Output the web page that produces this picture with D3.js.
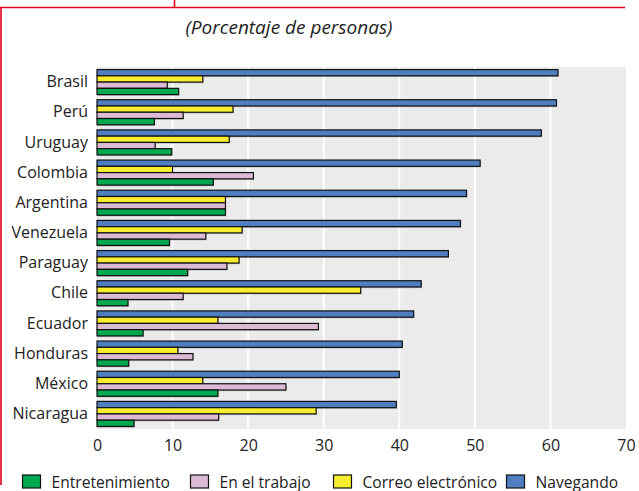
<!DOCTYPE html>
<html>
<head>
<meta charset="utf-8">
<script src="https://cdn.jsdelivr.net/npm/d3@7"></script>
<style>
  html, body { margin: 0; padding: 0; background: #fff; }
  svg { display: block; font-family: "Open Sans", "DejaVu Sans", sans-serif; }
</style>
</head>
<body>
<svg id="chart" width="639" height="491"></svg>
<script>
const countries = ["Brasil","Perú","Uruguay","Colombia","Argentina","Venezuela","Paraguay","Chile","Ecuador","Honduras","México","Nicaragua"];
const navegando       = [61.0, 60.8, 58.8, 50.7, 48.9, 48.1, 46.5, 42.9, 41.9, 40.4, 40.0, 39.6];
const correo          = [14.0, 18.0, 17.5, 10.0, 17.0, 19.2, 18.8, 34.9, 16.0, 10.7, 14.0, 29.0];
const trabajo         = [9.3, 11.4, 7.7, 20.7, 17.0, 14.4, 17.2, 11.4, 29.3, 12.7, 25.0, 16.1];
const entretenimiento = [10.8, 7.6, 9.9, 15.4, 17.0, 9.6, 12.0, 4.1, 6.1, 4.2, 16.0, 4.9];
const xTicks = [0,10,20,30,40,50,60,70];
const seriesNames = ["Navegando","Correo electrónico","En el trabajo","Entretenimiento"];
const legendOrder = ["Entretenimiento","En el trabajo","Correo electrónico","Navegando"];
const title = "(Porcentaje de personas)";

const seriesValues = {
  "Navegando": navegando,
  "Correo electrónico": correo,
  "En el trabajo": trabajo,
  "Entretenimiento": entretenimiento
};
const colors = {
  "Navegando": "#4f7fc1",
  "Correo electrónico": "#f8ee2f",
  "En el trabajo": "#dcb9d4",
  "Entretenimiento": "#00a84f"
};

const svg = d3.select("#chart");
const red = "#e3001b";

// frame
svg.append("line").attr("x1",0).attr("x2",625).attr("y1",7.5).attr("y2",7.5).attr("stroke",red).attr("stroke-width",1.6);
svg.append("line").attr("x1",174.5).attr("x2",174.5).attr("y1",0).attr("y2",7.5).attr("stroke",red).attr("stroke-width",1.6);
svg.append("line").attr("x1",1).attr("x2",1).attr("y1",7.5).attr("y2",485).attr("stroke",red).attr("stroke-width",1.6);

// title
svg.append("text").attr("x",289).attr("y",34).attr("text-anchor","middle")
  .attr("font-size",19).attr("font-style","italic").attr("fill","#222").text(title);

const x = d3.scaleLinear().domain([0,70]).range([97,626]);
const y = d3.scaleBand().domain(countries).range([67,429]).paddingInner(0.17).paddingOuter(0.085);
const ySub = d3.scaleBand().domain(seriesNames).range([0, y.bandwidth()]);

// background
svg.append("rect").attr("x",x(0)).attr("y",67).attr("width",x(70)-x(0)).attr("height",429-67).attr("fill","#ebebeb");

// gridlines
svg.append("g").selectAll("line").data(xTicks.slice(1,-1)).join("line")
  .attr("x1",d=>x(d)).attr("x2",d=>x(d)).attr("y1",67).attr("y2",429)
  .attr("stroke","#fff").attr("stroke-width",2);

// bars
const groups = svg.append("g").selectAll("g").data(countries).join("g")
  .attr("transform",d=>`translate(0,${y(d)})`);
seriesNames.forEach(s=>{
  groups.append("rect")
    .attr("x",x(0)+0.5).attr("y",ySub(s)+1.2)
    .attr("width",(d,i)=>x(seriesValues[s][i])-x(0)).attr("height",ySub.bandwidth())
    .attr("fill","#9a9a9a").attr("opacity",0.6);
});
seriesNames.forEach(s=>{
  groups.append("rect")
    .attr("x",x(0)).attr("y",ySub(s))
    .attr("width",(d,i)=>x(seriesValues[s][i])-x(0)).attr("height",ySub.bandwidth())
    .attr("fill",colors[s]).attr("stroke","#111").attr("stroke-width",1.2);
});

// y axis labels
const yAxis = d3.axisLeft(y).tickSize(0).tickPadding(9);
svg.append("g").attr("transform",`translate(${x(0)},0)`).call(yAxis)
  .call(g=>g.select(".domain").remove())
  .call(g=>g.selectAll("text").attr("font-size",16).attr("fill","#222").attr("font-family","'Open Sans', sans-serif"));

// x axis labels
const xAxis = d3.axisBottom(x).tickValues(xTicks).tickSize(0).tickPadding(11).tickFormat(d3.format("d"));
svg.append("g").attr("transform",`translate(0,429)`).call(xAxis)
  .call(g=>g.select(".domain").remove())
  .call(g=>g.selectAll("text").attr("font-size",16).attr("fill","#222").attr("font-family","'Open Sans', sans-serif"));

// legend
const legendX = [22.5, 190.5, 333.5, 506.5];
const lg = svg.append("g").selectAll("g").data(legendOrder).join("g")
  .attr("transform",(d,i)=>`translate(${legendX[i]},475)`);
lg.append("rect").attr("width",18).attr("height",13).attr("fill",d=>colors[d]).attr("stroke","#111").attr("stroke-width",1.2);
lg.append("text").attr("x",29).attr("y",12.5).attr("font-size",15.6).attr("fill","#222").text(d=>d);
</script>
</body>
</html>
